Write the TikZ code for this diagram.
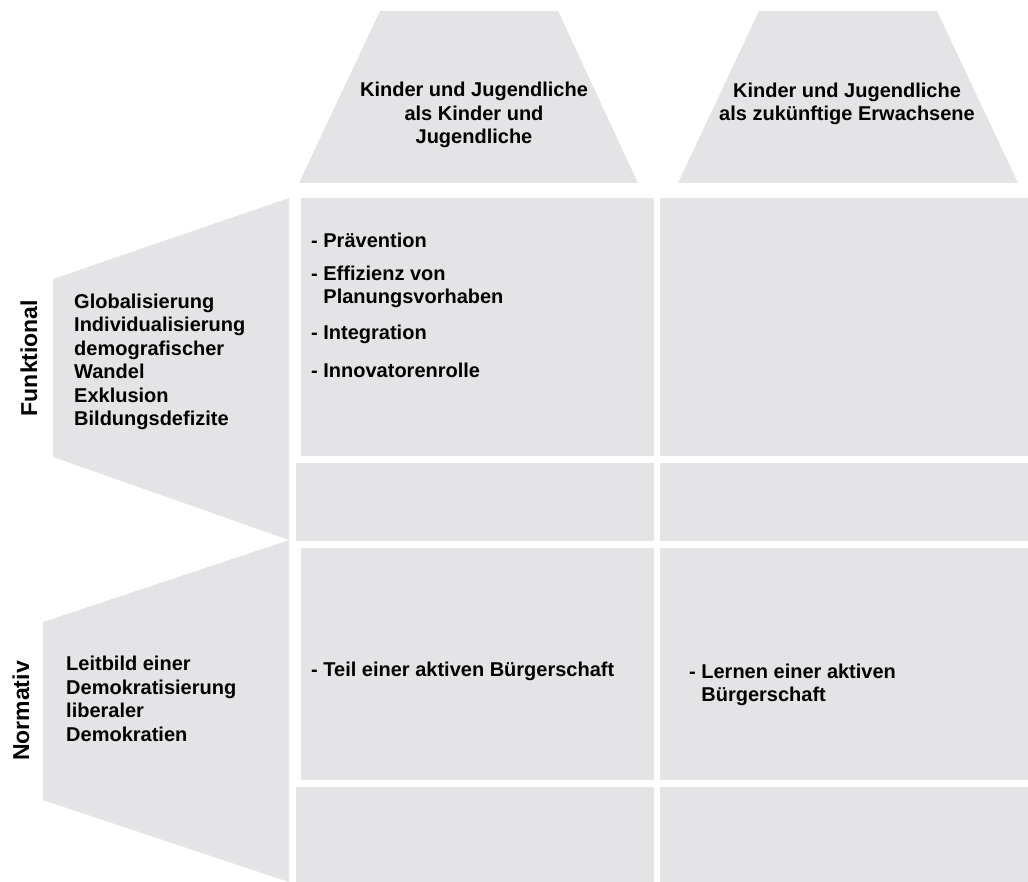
\documentclass[tikz,border=0pt]{standalone}
\usepackage{fontspec}
\setmainfont{Liberation Sans}
\definecolor{panelgray}{HTML}{E4E4E6}
\begin{document}
\begin{tikzpicture}[x=1pt,y=-1pt,
  panel/.style={fill=panelgray},
  lbl/.style={font=\bfseries\fontsize{20}{23.5}\selectfont, inner sep=0pt, text=black},
  head/.style={lbl, align=center},
  lefttxt/.style={lbl, align=left, anchor=west},
  item/.style={lbl, align=left, anchor=west},
  side/.style={lbl, font=\bfseries\fontsize{23}{26}\selectfont, rotate=90}]
\useasboundingbox (0,0) rectangle (1028,882);

% column headings (trapezoids)
\fill[panel] (380,11) -- (558,11) -- (638,183) -- (299,183) -- cycle;
\fill[panel] (759,11) -- (937,11) -- (1018,183) -- (678,183) -- cycle;

% row headings (trapezoids opening to the right)
\fill[panel] (289,198) -- (289,540) -- (53,457) -- (53,279) -- cycle;
\fill[panel] (289,540) -- (289,882) -- (43,800) -- (43,622) -- cycle;

% grid cells
\fill[panel] (301,198) rectangle (654,456);
\fill[panel] (660,198) rectangle (1028,456);
\fill[panel] (296,463) rectangle (654,541);
\fill[panel] (660,463) rectangle (1028,541);
\fill[panel] (301,548) rectangle (654,780);
\fill[panel] (660,548) rectangle (1028,780);
\fill[panel] (296,787) rectangle (654,882);
\fill[panel] (660,787) rectangle (1028,882);

% heading texts
\node[head] (h1) at (474,115) {Kinder und Jugendliche\\als Kinder und\\Jugendliche};
\node[head] (h2) at (847,104) {Kinder und Jugendliche\\als zukünftige Erwachsene};

\node[side] (funk) at (29,358) {Funktional};
\node[side] (norm) at (21,711) {Normativ};

\node[lefttxt] (fctx) at (74,362) {Globalisierung\\Individualisierung\\demografischer\\Wandel\\Exklusion\\Bildungsdefizite};
\node[lefttxt] (nctx) at (66,699) {Leitbild einer\\Demokratisierung\\liberaler\\Demokratien};

% cell entries
\node[item] (i1) at (311,240) {- Prävention};
\node[item] (i2) at (311,287) {- Effizienz von\\\phantom{- }Planungsvorhaben};
\node[item] (i3) at (311,334) {- Integration};
\node[item] (i4) at (311,370) {- Innovatorenrolle};

\node[item] (i5) at (311,671) {- Teil einer aktiven Bürgerschaft};
\node[item] (i6) at (689,685) {- Lernen einer aktiven\\\phantom{- }Bürgerschaft};
\end{tikzpicture}
\end{document}
